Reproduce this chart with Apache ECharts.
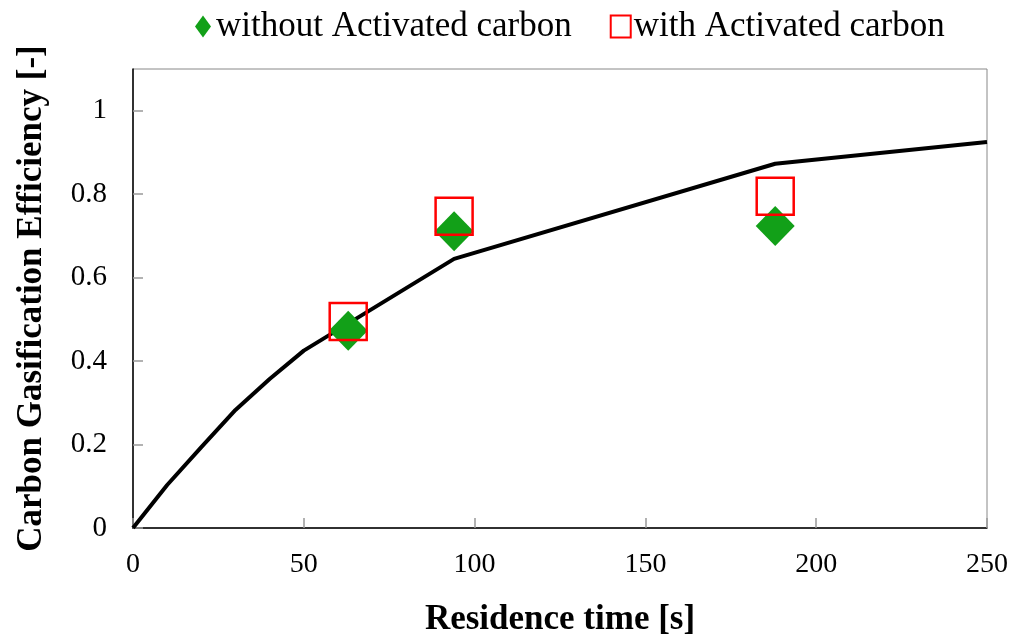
<!DOCTYPE html>
<html>
<head>
<meta charset="utf-8">
<script src="https://cdn.jsdelivr.net/npm/echarts@6/dist/echarts.min.js"></script>
<style>html,body{margin:0;padding:0;background:#fff}#c{width:1013px;height:639px}</style>
</head>
<body>
<div id="c"></div>
<script>
// Model curve (residence time [s], efficiency [-])
var modelX = [0, 10, 20, 30, 40, 50, 94, 188, 250];
var modelY = [0, 0.103, 0.194, 0.283, 0.357, 0.425, 0.645, 0.873, 0.925];
// Experimental points
var expX = [63, 94, 188];
var withoutAC = [0.473, 0.711, 0.724];
var withAC = [0.495, 0.747, 0.795];
var seriesNames = ['without Activated carbon', 'with Activated carbon'];
var xTitle = 'Residence time [s]';
var yTitle = 'Carbon Gasification Efficiency [-]';

function pairs(xs, ys) { return xs.map(function (x, i) { return [x, ys[i]]; }); }

var font = 'Liberation Serif';
var chart = echarts.init(document.getElementById('c'));
chart.setOption({
  animation: false,
  backgroundColor: '#fff',
  textStyle: { fontFamily: font },
  grid: { left: 133, right: 26, top: 69, bottom: 111, outerBoundsMode: 'none', containLabel: false,
    show: true, borderColor: '#888', borderWidth: 1, backgroundColor: 'transparent' },
  legend: {
    top: 4, left: 190, itemGap: 38, itemWidth: 20, itemHeight: 22,
    textStyle: { fontFamily: font, fontSize: 35, color: '#000', padding: [0, 0, 0, -2] },
    data: [
      { name: seriesNames[0], icon: 'path://M8,0L16,11L8,22L0,11Z' },
      { name: seriesNames[1], icon: 'rect' }
    ]
  },
  xAxis: {
    type: 'value', min: 0, max: 250, interval: 50,
    name: xTitle, nameLocation: 'middle', nameGap: 74,
    nameTextStyle: { fontFamily: font, fontSize: 35, fontWeight: 'bold', color: '#000' },
    axisLine: { show: true, onZero: false, lineStyle: { color: '#000', width: 1.5 } },
    axisTick: { show: true, inside: true, length: 10, lineStyle: { color: '#999', width: 1.5 } },
    axisLabel: { fontFamily: font, fontSize: 28, color: '#000', margin: 23 },
    splitLine: { show: false }
  },
  yAxis: {
    type: 'value', min: 0, max: 1.1, interval: 0.2,
    name: yTitle, nameLocation: 'middle', nameGap: 84, nameRotate: 90,
    nameTextStyle: { fontFamily: font, fontSize: 35, fontWeight: 'bold', color: '#000' },
    axisLine: { show: true, onZero: false, lineStyle: { color: '#000', width: 1.5 } },
    axisTick: { show: true, inside: true, length: 10, lineStyle: { color: '#999', width: 1.5 } },
    axisLabel: { fontFamily: font, fontSize: 29, color: '#000', margin: 26, showMaxLabel: false,
      formatter: function (v) { return Math.abs(v - 1.1) < 1e-6 ? '' : String(+v.toFixed(1)); } },
    splitLine: { show: false }
  },
  series: [
    {
      name: 'model', type: 'line', data: pairs(modelX, modelY), showSymbol: false, symbol: 'none',
      lineStyle: { color: '#000', width: 4 }, z: 2
    },
    {
      name: seriesNames[0], type: 'scatter', data: pairs(expX, withoutAC), symbol: 'diamond', symbolSize: [39, 40],
      itemStyle: { color: '#12A018', opacity: 1 }, z: 3
    },
    {
      name: seriesNames[1], type: 'scatter', data: pairs(expX, withAC), symbol: 'rect', symbolSize: [37, 37],
      itemStyle: { color: 'rgba(255,255,255,0)', borderColor: '#FF0000', borderWidth: 2.5, opacity: 1 }, z: 4
    }
  ]
});
</script>
</body>
</html>
